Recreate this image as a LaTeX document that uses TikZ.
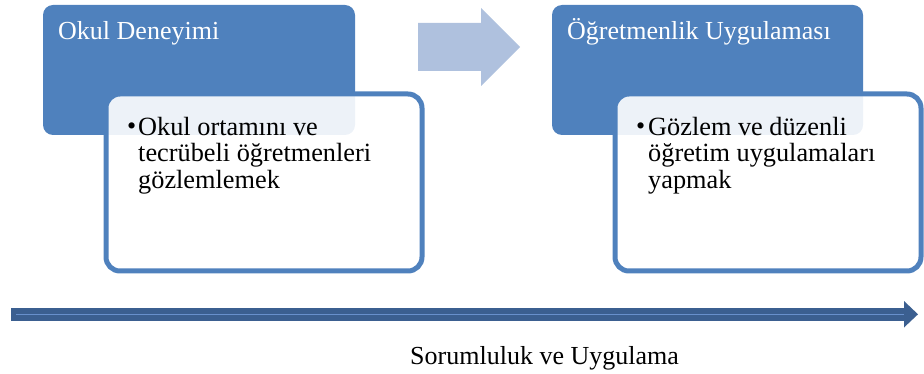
\documentclass[tikz,border=0pt]{standalone}
\usepackage{fontspec}
\setmainfont{Liberation Serif}
\definecolor{dblue}{HTML}{4F81BD}
\definecolor{lblue}{HTML}{AFC1DE}
\definecolor{adark}{HTML}{3B5F90}
\definecolor{astripe}{HTML}{6890CC}
\begin{document}
\begin{tikzpicture}[x=1pt,y=-1pt,
  phase/.style={rectangle, fill=dblue, rounded corners=10pt, inner sep=0pt, outer sep=0pt},
  detail/.style={rectangle, draw=dblue, line width=5pt, fill=white, fill opacity=0.9, rounded corners=14pt, inner sep=0pt},
  titletext/.style={font=\fontsize{26}{26.5}\selectfont, text=white, inner sep=0pt, anchor=base west},
  bodytext/.style={font=\fontsize{26.3}{26.5}\selectfont, text=black, inner sep=0pt, anchor=north west, align=left},
  bullettext/.style={font=\fontsize{26}{26.5}\selectfont, text=black, inner sep=0pt, anchor=base west}
]
\useasboundingbox (0,0) rectangle (924,374);

% left phase
\node[phase, minimum width=312pt, minimum height=130pt] (p1) at (199,70) {};
\node[titletext] (t1) at (58,40) {Okul Deneyimi};
\node[detail, minimum width=316pt, minimum height=177pt] (d1) at (264,182.5) {};
\node[bullettext] (b1) at (127,135) {•};
\node[bodytext] (x1) at (138,117) {Okul ortamını ve\\tecrübeli öğretmenleri\\gözlemlemek};

% block arrow
\fill[lblue] (418,23) -- (481,23) -- (481,8) -- (520,47) -- (481,86) -- (481,71) -- (418,71) -- cycle;

% right phase
\node[phase, minimum width=311pt, minimum height=130pt] (p2) at (707.5,70) {};
\node[titletext] (t2) at (567,40) {Öğretmenlik Uygulaması};
\node[detail, minimum width=306pt, minimum height=177pt] (d2) at (768,182.5) {};
\node[bullettext] (b2) at (636,135) {•};
\node[bodytext] (x2) at (648,117) {Gözlem ve düzenli\\öğretim uygulamaları\\yapmak};

% bottom axis arrow
\coordinate (s) at (11,314.3);
\coordinate (m) at (905,314.3);
\coordinate (e) at (918,314.3);
\draw[line width=13pt, adark] (s) -- (m);
\draw[line width=1.5pt, astripe] ([xshift=5pt]s) -- ([xshift=-1pt]m);
\fill[adark] (904,301) -- (e) -- (904,327.5) -- cycle;
\node[font=\fontsize{26}{26.5}\selectfont, inner sep=0pt, anchor=base west] (lab) at (410,364) {Sorumluluk ve Uygulama};
\end{tikzpicture}
\end{document}
